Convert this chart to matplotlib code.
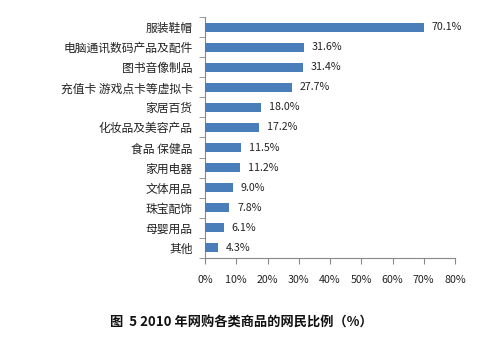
import matplotlib
matplotlib.use("Agg")
import matplotlib.pyplot as plt
from matplotlib.ticker import FuncFormatter, FixedLocator

plt.rcParams['font.family'] = ['Noto Sans CJK SC', 'DejaVu Sans']

categories = ["服装鞋帽", "电脑通讯数码产品及配件", "图书音像制品", "充值卡 游戏点卡等虚拟卡",
              "家居百货", "化妆品及美容产品", "食品 保健品", "家用电器",
              "文体用品", "珠宝配饰", "母婴用品", "其他"]
values = [70.1, 31.6, 31.4, 27.7, 18.0, 17.2, 11.5, 11.2, 9.0, 7.8, 6.1, 4.3]
value_labels = ["70.1%", "31.6%", "31.4%", "27.7%", "18.0%", "17.2%", "11.5%", "11.2%",
                "9.0%", "7.8%", "6.1%", "4.3%"]
x_ticks = [0, 10, 20, 30, 40, 50, 60, 70, 80]
title = "图  5 2010 年网购各类商品的网民比例（%）"

fig = plt.figure(figsize=(5.0, 3.51), dpi=100)
fig.patch.set_facecolor('white')

ax = fig.add_axes([0.41, 0.265, 0.50, 0.6866])
ax.set_facecolor('none')
n = len(categories)
ypos = list(range(n))
ax.barh(ypos, values, height=0.45, color='#4a7ebb', zorder=3)
ax.set_ylim(n - 0.5, -0.5)
ax.set_xlim(0, 80)

for y, v, lab in zip(ypos, values, value_labels):
    ax.text(v + 2.5, y, lab, va='center', ha='left', fontsize=7.7, color='#222222')

ax.set_yticks(ypos)
ax.set_yticklabels(categories, fontsize=8.5, color='#222222')
ax.yaxis.set_minor_locator(FixedLocator([i - 0.5 for i in range(n + 1)]))
ax.tick_params(axis='y', which='major', length=0, pad=9)
ax.tick_params(axis='y', which='minor', length=4, color='#888888', direction='out')

ax.set_xticks(x_ticks)
ax.xaxis.set_major_formatter(FuncFormatter(lambda v, p: f"{int(v)}%"))
ax.tick_params(axis='x', length=4, color='#888888', labelsize=7.7, labelcolor='#222222', pad=8)

for s in ['top', 'right']:
    ax.spines[s].set_visible(False)
for s in ['left', 'bottom']:
    ax.spines[s].set_color('#888888')
    ax.spines[s].set_linewidth(0.8)

fig.text(0.482, 0.08, title, ha='center', va='center', fontsize=9.5, fontweight='bold', color='#111111')

fig.savefig('out.png', dpi=100)
